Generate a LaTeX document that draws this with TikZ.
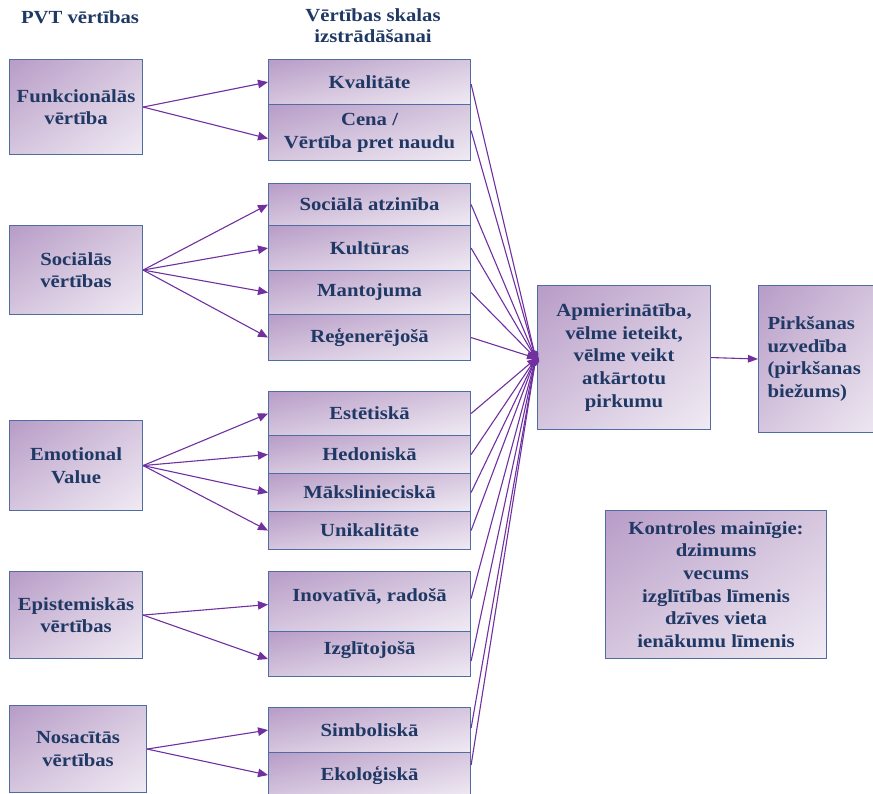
\documentclass[tikz,border=0pt]{standalone}
\usepackage{fontspec}
\setmainfont{Liberation Serif}[FakeStretch=1.12]
\usetikzlibrary{arrows.meta,shadings}
\definecolor{boxA}{RGB}{183,156,199}
\definecolor{boxM}{RGB}{214,198,222}
\definecolor{boxB}{RGB}{240,235,244}
\definecolor{boxline}{RGB}{79,109,160}
\definecolor{txt}{RGB}{31,56,100}
\definecolor{arr}{RGB}{112,48,160}
\tikzset{
  box/.style={draw=boxline, line width=1.1pt, upper left=boxA, upper right=boxM,
    lower left=boxM, lower right=boxB, anchor=north west, inner sep=2pt,
    align=center, text=txt, font=\fontsize{18.5}{22.6}\selectfont\bfseries},
  hdr/.style={align=center, text=txt, font=\fontsize{18.5}{21}\selectfont\bfseries},
  conn/.style={draw=arr, line width=1.1pt, -{Triangle[length=10pt,width=8.5pt]}},
  conn2/.style={draw=arr, line width=1.1pt, -{Triangle[length=10pt,width=7.5pt]}},
}
\newcommand{\bx}[6]{\node[box, minimum width=#4pt, minimum height=#5pt] (#1) at (#2,#3) {#6};}
\begin{document}
\begin{tikzpicture}[x=1pt,y=-1pt]
\useasboundingbox (0,0) rectangle (873,794);
\clip (0,0) rectangle (873,794);
\node[hdr] (h1) at (80,17) {PVT vērtības};
\node[hdr] (h2) at (373,26) {Vērtības skalas\\izstrādāšanai};
% left boxes
\bx{f}{9}{59}{133}{95}{Funkcionālās\\vērtība}
\bx{s}{9}{225}{133}{89}{Sociālās\\vērtības}
\bx{e}{9}{420}{133}{90}{Emotional\\Value}
\bx{ep}{9}{571}{133}{87}{Epistemiskās\\vērtības}
\bx{n}{9}{705}{137}{87}{Nosacītās\\vērtības}
% middle boxes
\bx{m1}{268}{59}{202}{45}{Kvalitāte}
\bx{m2}{268}{104}{202}{56}{Cena /\\Vērtība pret naudu}
\bx{m3}{268}{183}{202}{42}{Sociālā atzinība}
\bx{m4}{268}{225}{202}{45}{Kultūras}
\bx{m5}{268}{270}{202}{44}{Mantojuma}
\bx{m6}{268}{314}{202}{46}{Reģenerējošā}
\bx{m7}{268}{391}{202}{44}{Estētiskā}
\bx{m8}{268}{435}{202}{38}{Hedoniskā}
\bx{m9}{268}{473}{202}{38}{Mākslinieciskā}
\bx{m10}{268}{511}{202}{38}{Unikalitāte}
\node[box, minimum width=202pt, minimum height=60pt, text depth=14pt] (m11) at (268,571) {Inovatīvā, radošā};
\node[box, minimum width=202pt, minimum height=45pt, text depth=12pt] (m12) at (268,631) {Izglītojošā};
\bx{m13}{268}{707}{202}{45}{Simboliskā}
\bx{m14}{268}{752}{202}{45}{Ekoloģiskā}
% right
\bx{ap}{537}{285}{173}{144}{Apmierinātība,\\vēlme ieteikt,\\vēlme veikt\\atkārtotu\\pirkumu}
\node[box, minimum width=130pt, minimum height=147pt, align=left, text width=112pt] (pv) at (758,285) {Pirkšanas\\uzvedība\\(pirkšanas\\biežums)};
\bx{k}{605}{510}{221}{148}{Kontroles mainīgie:\\dzimums\\vecums\\izglītības līmenis\\dzīves vieta\\ienākumu līmenis}
% connectors left -> middle
\draw[conn] (f.east) -- (m1.west);
\draw[conn] (f.east) -- ([yshift=-6pt]m2.west);
\foreach \t in {m3,m4,m5,m6} \draw[conn] (s.east) -- (\t.west);
\foreach \t in {m7,m8,m9,m10} \draw[conn] (e.east) -- (\t.west);
\draw[conn] (ep.east) -- ([yshift=-3pt]m11.west);
\draw[conn] (ep.east) -- ([yshift=-5pt]m12.west);
\draw[conn] (n.east) -- (m13.west);
\draw[conn] (n.east) -- (m14.west);
% middle -> ap
\draw[conn2] ([yshift=-2pt]m1.east) -- ([yshift=-6pt]ap.west);
\draw[conn2] ([yshift=2pt]m2.east) -- ([yshift=-5pt]ap.west);
\draw[conn2] (m3.east) -- ([yshift=-4pt]ap.west);
\draw[conn2] (m4.east) -- ([yshift=-3pt]ap.west);
\draw[conn2] (m5.east) -- ([yshift=-2pt]ap.west);
\draw[conn2] (m6.east) -- ([yshift=-1pt]ap.west);
\draw[conn2] (m7.east) -- ([yshift=0pt]ap.west);
\draw[conn2] (m8.east) -- ([yshift=1pt]ap.west);
\draw[conn2] (m9.east) -- ([yshift=2pt]ap.west);
\draw[conn2] (m10.east) -- ([yshift=3pt]ap.west);
\draw[conn2] ([yshift=3pt]m11.east) -- ([yshift=4pt]ap.west);
\draw[conn2] ([yshift=-7pt]m12.east) -- ([yshift=5pt]ap.west);
\draw[conn2] ([yshift=2pt]m13.east) -- ([yshift=6pt]ap.west);
\draw[conn2] ([yshift=10pt]m14.east) -- ([yshift=7pt]ap.west);
\draw[conn2] (ap.east) -- (pv.west);
\end{tikzpicture}
\end{document}
